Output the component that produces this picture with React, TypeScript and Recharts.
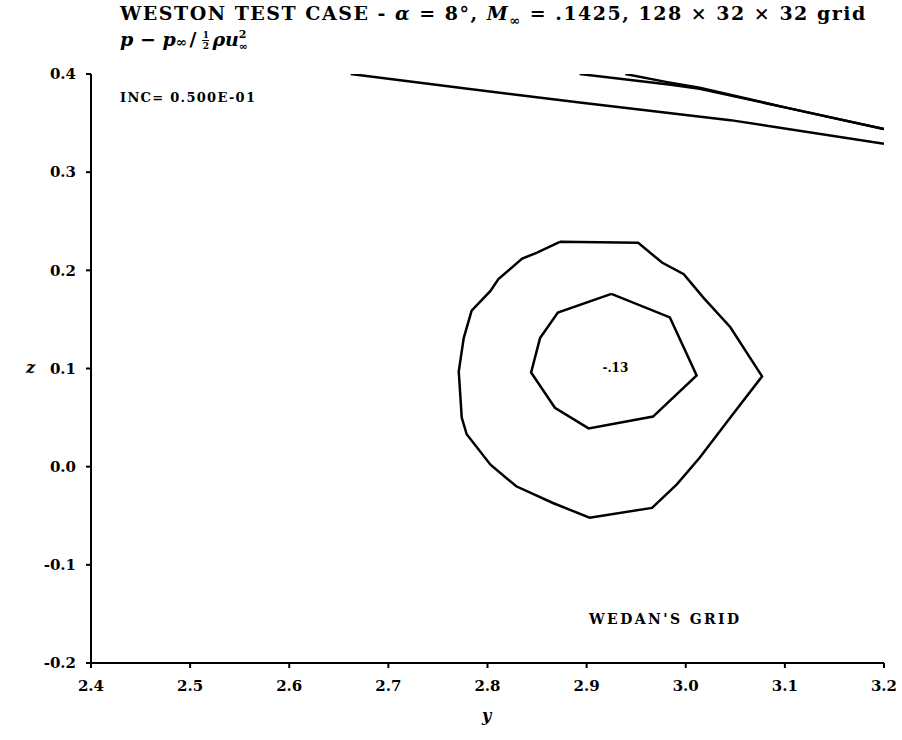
import React from "react";
import { ScatterChart, Scatter, XAxis, YAxis } from "recharts";

// outer contour (closed)
const outerY = [2.873, 2.952, 2.976, 2.998, 3.018, 3.045, 3.077, 3.045, 3.014, 2.991, 2.966, 2.903, 2.866, 2.829, 2.803, 2.779, 2.774, 2.771, 2.776, 2.784, 2.803, 2.811, 2.835, 2.85, 2.873];
const outerZ = [0.229, 0.228, 0.208, 0.196, 0.172, 0.142, 0.092, 0.05, 0.009, -0.018, -0.042, -0.052, -0.037, -0.02, 0.002, 0.033, 0.05, 0.097, 0.131, 0.159, 0.179, 0.191, 0.212, 0.218, 0.229];

// inner contour (closed)
const innerY = [2.925, 2.984, 3.011, 2.967, 2.902, 2.868, 2.844, 2.853, 2.871, 2.925];
const innerZ = [0.176, 0.152, 0.093, 0.051, 0.039, 0.06, 0.096, 0.131, 0.157, 0.176];

// contour pieces near the top edge
const lineAY = [2.662, 2.78, 2.893, 3.045, 3.2];
const lineAZ = [0.4, 0.385, 0.371, 0.353, 0.329];
const lineBY = [2.893, 2.985, 3.014, 3.1, 3.2];
const lineBZ = [0.4, 0.389, 0.385, 0.366, 0.344];
const lineCY = [2.939, 2.98, 3.014, 3.1, 3.2];
const lineCZ = [0.4, 0.392, 0.386, 0.366, 0.344];

const minLabel = { y: 2.929, z: 0.101, text: "-.13" };

const xTicks = [2.4, 2.5, 2.6, 2.7, 2.8, 2.9, 3.0, 3.1, 3.2];
const yTicks = [-0.2, -0.1, 0.0, 0.1, 0.2, 0.3, 0.4];

const zip = (ys: number[], zs: number[]) => ys.map((y, i) => ({ y, z: zs[i] }));

const FONT = "'DejaVu Serif', 'Liberation Serif', serif";
const noDot = () => <g />;

const tickStyle = { fontFamily: FONT, fontWeight: 700, fontSize: 15, fill: "#000" };

function LabelShape(props: any) {
  return (
    <text x={props.cx} y={props.cy} textAnchor="middle" dominantBaseline="central"
      style={{ fontFamily: FONT, fontWeight: 700, fontSize: 12 }} fill="#000">
      {minLabel.text}
    </text>
  );
}

export default function App() {
  const series = [
    zip(outerY, outerZ),
    zip(innerY, innerZ),
    zip(lineAY, lineAZ),
    zip(lineBY, lineBZ),
    zip(lineCY, lineCZ),
  ];
  return (
    <div style={{ position: "absolute", left: 0, top: 0, width: 902, height: 740, background: "#fff", fontFamily: FONT, color: "#000" }}>
      <ScatterChart width={902} height={740} margin={{ top: 74, right: 18, bottom: 47, left: 0 }}>
        <XAxis type="number" dataKey="y" domain={[2.4, 3.2]} ticks={xTicks} tickFormatter={(v) => v.toFixed(1)}
          stroke="#000" strokeWidth={2} tickSize={5} tickMargin={12} height={30} tick={tickStyle} allowDataOverflow />
        <YAxis type="number" dataKey="z" domain={[-0.2, 0.4]} ticks={yTicks} tickFormatter={(v) => v.toFixed(1)}
          stroke="#000" strokeWidth={2} tickSize={5} tickMargin={10} width={91} tick={tickStyle} allowDataOverflow />
        {series.map((d, i) => (
          <Scatter key={i} data={d} line={{ stroke: "#000", strokeWidth: 2.5 }} lineType="joint"
            shape={noDot} isAnimationActive={false} />
        ))}
        <Scatter data={[{ y: minLabel.y, z: minLabel.z }]} shape={LabelShape} isAnimationActive={false} />
      </ScatterChart>

      <div style={{ position: "absolute", left: 120, top: 3, fontSize: 19, fontWeight: 700, whiteSpace: "nowrap", lineHeight: "20px", letterSpacing: 1.5 }}>
        WESTON TEST CASE - <i>α</i> = 8°, <i>M</i><sub style={{ fontSize: 13 }}>∞</sub> = .1425, 128 × 32 × 32 grid
      </div>
      <div style={{ position: "absolute", left: 120, top: 25, fontSize: 19, fontWeight: 700, whiteSpace: "nowrap", display: "flex", alignItems: "center", lineHeight: "20px" }}>
        <i>p</i>&nbsp;−&nbsp;<i>p</i><span style={{ fontSize: 14, marginTop: 6 }}>∞</span>
        <span style={{ marginLeft: 2, marginRight: 6 }}>/</span>
        <span style={{ display: "inline-flex", flexDirection: "column", alignItems: "center", fontSize: 9, lineHeight: "10px", marginTop: 2, marginRight: 3 }}>
          <span>1</span><span style={{ borderTop: "1px solid #000", width: 7 }} /><span>2</span>
        </span>
        <i>ρu</i>
        <span style={{ display: "inline-flex", flexDirection: "column", fontSize: 11, lineHeight: "12px", marginTop: 4 }}>
          <span>2</span><span>∞</span>
        </span>
      </div>
      <div style={{ position: "absolute", left: 120, top: 90, fontSize: 13, fontWeight: 700, whiteSpace: "nowrap", letterSpacing: 1.3 }}>
        INC= 0.500E-01
      </div>
      <div style={{ position: "absolute", left: 589, top: 611, fontSize: 14, fontWeight: 700, whiteSpace: "nowrap", letterSpacing: 2.4 }}>
        WEDAN'S GRID
      </div>
      <div style={{ position: "absolute", left: 26, top: 358, fontSize: 16, fontWeight: 700, fontStyle: "italic" }}>z</div>
      <div style={{ position: "absolute", left: 482, top: 706, fontSize: 16, fontWeight: 700, fontStyle: "italic" }}>y</div>
    </div>
  );
}
